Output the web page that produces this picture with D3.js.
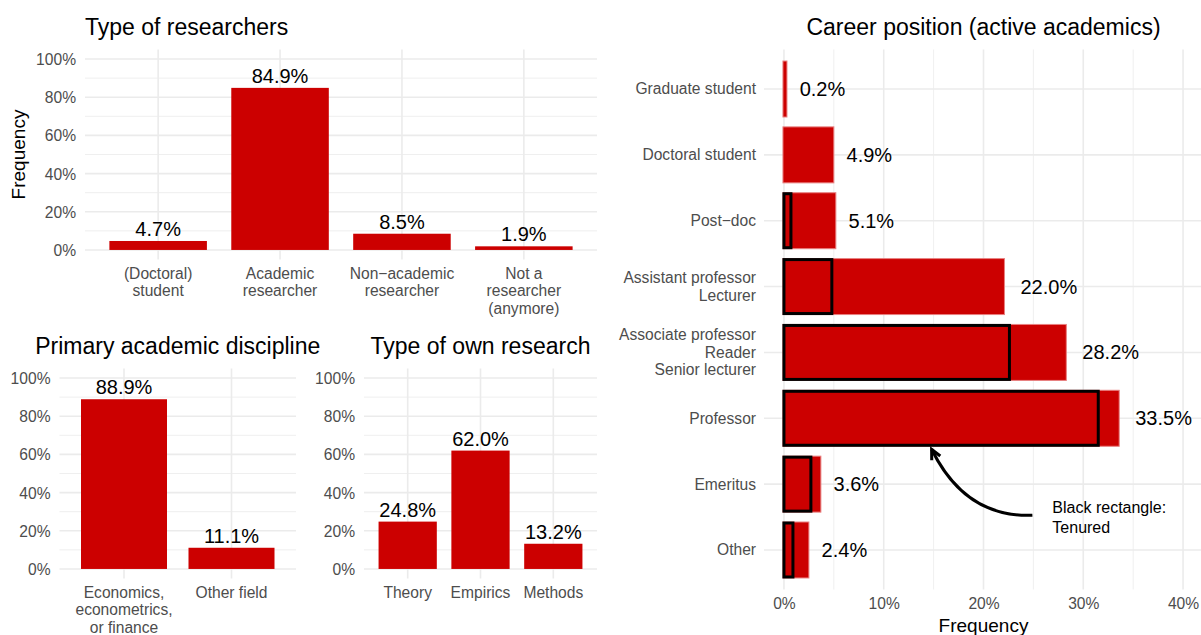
<!DOCTYPE html>
<html><head><meta charset="utf-8">
<script src="https://cdn.jsdelivr.net/npm/d3@7"></script>
<style>
body{margin:0;background:#fff}
svg{display:block}
text{font-family:"Liberation Sans",Arial,Helvetica,sans-serif}
</style>
</head><body>
<svg id="c" width="1201" height="635"></svg>
<script>
// ---------- DATA ----------
const researcherTypes = ["(Doctoral)\nstudent", "Academic\nresearcher", "Non\u2212academic\nresearcher", "Not a\nresearcher\n(anymore)"];
const researcherShares = [4.7, 84.9, 8.5, 1.9];

const disciplines = ["Economics,\neconometrics,\nor finance", "Other field"];
const disciplineShares = [88.9, 11.1];

const researchTypes = ["Theory", "Empirics", "Methods"];
const researchShares = [24.8, 62.0, 13.2];

const careerPositions = ["Graduate student", "Doctoral student", "Post\u2212doc", "Assistant professor\nLecturer",
  "Associate professor\nReader\nSenior lecturer", "Professor", "Emeritus", "Other"];
const careerShares = [0.2, 4.9, 5.1, 22.0, 28.2, 33.5, 3.6, 2.4];
const tenuredShares = [0, 0, 0.7, 4.8, 22.6, 31.5, 2.7, 0.9];

const yTicks = [0, 20, 40, 60, 80, 100];
const yMinorTicks = [10, 30, 50, 70, 90];
const careerTicks = [0, 10, 20, 30, 40];
const careerMinorTicks = [5, 15, 25, 35];

const annotationLines = ["Black rectangle:", "Tenured"];

// ---------- STYLE ----------
const RED = "#CC0000", GRID = "#EBEBEB", AXIS = "#4D4D4D";
const TICK_FS = 15.6, VAL_FS = 20, TITLE_FS = 23, AXTITLE_FS = 19, LINE_H = 17.5;

const svg = d3.select("#c");

function multiline(sel, label, lh) {
  const lines = label.split("\n");
  sel.text(null);
  lines.forEach((l, i) => sel.append("tspan").attr("x", sel.attr("x") || 0).attr("dy", i === 0 ? 0 : lh).text(l));
}

function verticalPanel(o) {
  const g = svg.append("g");
  const x = d3.scaleBand().domain(o.cats).range([o.left, o.right]).paddingInner(0.2).paddingOuter(0.2);
  const y = d3.scaleLinear().domain([-5, 105]).range([o.bottom, o.top]);
  // grid
  g.selectAll(".mn").data(yMinorTicks).join("line")
    .attr("x1", o.left).attr("x2", o.right).attr("y1", d => y(d)).attr("y2", d => y(d))
    .attr("stroke", GRID).attr("stroke-width", 0.8);
  g.selectAll(".mj").data(yTicks).join("line")
    .attr("x1", o.left).attr("x2", o.right).attr("y1", d => y(d)).attr("y2", d => y(d))
    .attr("stroke", GRID).attr("stroke-width", 1.6);
  g.selectAll(".vx").data(o.cats).join("line")
    .attr("x1", d => x(d) + x.bandwidth() / 2).attr("x2", d => x(d) + x.bandwidth() / 2)
    .attr("y1", o.top).attr("y2", o.bottom)
    .attr("stroke", GRID).attr("stroke-width", 1.6);
  // bars
  g.selectAll(".bar").data(o.cats).join("rect")
    .attr("x", d => x(d)).attr("width", x.bandwidth())
    .attr("y", (d, i) => y(o.vals[i])).attr("height", (d, i) => y(0) - y(o.vals[i]))
    .attr("fill", RED);
  // value labels
  g.selectAll(".val").data(o.cats).join("text")
    .attr("x", d => x(d) + x.bandwidth() / 2).attr("y", (d, i) => y(o.vals[i]) - 5)
    .attr("text-anchor", "middle").attr("font-size", VAL_FS).attr("fill", "#000")
    .text((d, i) => o.vals[i].toFixed(1) + "%");
  // y axis
  const ya = g.append("g").attr("transform", `translate(${o.left},0)`)
    .call(d3.axisLeft(y).tickValues(yTicks).tickSize(0).tickPadding(9).tickFormat(d => d + "%"));
  ya.select(".domain").remove();
  ya.selectAll("text").attr("font-size", TICK_FS).attr("fill", AXIS).attr("font-family", null).attr("dy", "0.35em");
  // x axis
  const xa = g.append("g").attr("transform", `translate(0,${o.bottom})`)
    .call(d3.axisBottom(x).tickSize(0).tickPadding(0));
  xa.select(".domain").remove();
  xa.selectAll("text").attr("font-size", TICK_FS).attr("fill", AXIS).attr("font-family", null)
    .attr("y", 19).attr("dy", null)
    .each(function (d) { multiline(d3.select(this), d, LINE_H); });
  // title
  g.append("text").attr("x", o.titleX).attr("y", o.titleY)
    .attr("text-anchor", o.titleAnchor).attr("font-size", TITLE_FS).attr("fill", "#000").text(o.title);
  return g;
}

verticalPanel({ left: 85, right: 597, top: 49.5, bottom: 259.5, cats: researcherTypes, vals: researcherShares,
  title: "Type of researchers", titleX: 85, titleY: 35, titleAnchor: "start" });
svg.append("text").attr("transform", "translate(25,154.5) rotate(-90)")
  .attr("text-anchor", "middle").attr("font-size", AXTITLE_FS).attr("fill", "#000").text("Frequency");

verticalPanel({ left: 59.5, right: 296, top: 368.5, bottom: 578.5, cats: disciplines, vals: disciplineShares,
  title: "Primary academic discipline", titleX: 177.75, titleY: 354, titleAnchor: "middle" });

verticalPanel({ left: 364, right: 597, top: 368.5, bottom: 578.5, cats: researchTypes, vals: researchShares,
  title: "Type of own research", titleX: 480.5, titleY: 354, titleAnchor: "middle" });

// ---------- CAREER PANEL ----------
(function () {
  const L = 764, R = 1203, T = 49.5, B = 589.5;
  const g = svg.append("g");
  const x = d3.scaleLinear().domain([-2, 42]).range([L, R]);
  const y = d3.scaleBand().domain(careerPositions).range([T, B]).paddingInner(0.15).paddingOuter(0.175);
  const cy = d => y(d) + y.bandwidth() / 2;
  g.selectAll(".mn").data(careerMinorTicks).join("line")
    .attr("x1", d => x(d)).attr("x2", d => x(d)).attr("y1", T).attr("y2", B)
    .attr("stroke", GRID).attr("stroke-width", 0.8);
  g.selectAll(".mj").data(careerTicks).join("line")
    .attr("x1", d => x(d)).attr("x2", d => x(d)).attr("y1", T).attr("y2", B)
    .attr("stroke", GRID).attr("stroke-width", 1.6);
  g.selectAll(".hz").data(careerPositions).join("line")
    .attr("x1", L).attr("x2", R).attr("y1", cy).attr("y2", cy)
    .attr("stroke", GRID).attr("stroke-width", 1.6);
  // bars
  g.selectAll(".bar").data(careerPositions).join("rect")
    .attr("x", x(0) - 1).attr("width", (d, i) => x(careerShares[i]) - x(0) + 2)
    .attr("y", d => y(d)).attr("height", y.bandwidth())
    .attr("fill", RED).attr("stroke", "#e88080").attr("stroke-width", 1);
  // tenured rectangles
  g.selectAll(".ten").data(careerPositions.filter((d, i) => tenuredShares[i] > 0)).join("rect")
    .attr("x", x(0)).attr("width", d => x(tenuredShares[careerPositions.indexOf(d)]) - x(0))
    .attr("y", d => y(d) + 1).attr("height", y.bandwidth() - 2)
    .attr("fill", "none").attr("stroke", "#000").attr("stroke-width", 3);
  // value labels (hjust = -0.3)
  g.selectAll(".val").data(careerPositions).join("text")
    .attr("y", d => cy(d)).attr("dy", "0.35em")
    .attr("font-size", VAL_FS).attr("fill", "#000")
    .text((d, i) => careerShares[i].toFixed(1) + "%")
    .attr("x", function (d, i) { return x(careerShares[i]) + 0.3 * this.getComputedTextLength(); });
  // y axis
  const ya = g.append("g").attr("transform", `translate(${L},0)`)
    .call(d3.axisLeft(y).tickSize(0).tickPadding(8));
  ya.select(".domain").remove();
  ya.selectAll("text").attr("font-size", TICK_FS).attr("fill", AXIS).attr("font-family", null)
    .each(function (d) {
      const n = d.split("\n").length;
      const s = d3.select(this).attr("dy", null).attr("y", 5.4 - (n - 1) * LINE_H / 2);
      multiline(s, d, LINE_H);
    });
  // x axis
  const xa = g.append("g").attr("transform", `translate(0,${B})`)
    .call(d3.axisBottom(x).tickValues(careerTicks).tickSize(0).tickPadding(0).tickFormat(d => d + "%"));
  xa.select(".domain").remove();
  xa.selectAll("text").attr("font-size", TICK_FS).attr("fill", AXIS).attr("font-family", null)
    .attr("y", 19).attr("dy", null);
  g.append("text").attr("x", (L + R) / 2).attr("y", 631.5).attr("text-anchor", "middle")
    .attr("font-size", AXTITLE_FS).attr("fill", "#000").text("Frequency");
  g.append("text").attr("x", (L + R) / 2).attr("y", 35).attr("text-anchor", "middle")
    .attr("font-size", TITLE_FS).attr("fill", "#000").text("Career position (active academics)");

  // annotation: curved arrow pointing at Professor bar
  const start = [x(24.9), cy("Emeritus") + 31];
  const end = [x(14.8), y("Professor") + y.bandwidth() + 3];
  const ctrl = [x(18.2), start[1] + 3];
  const p = d3.path();
  p.moveTo(start[0], start[1]);
  p.quadraticCurveTo(ctrl[0], ctrl[1], end[0], end[1]);
  g.append("path").attr("d", p.toString()).attr("fill", "none").attr("stroke", "#000").attr("stroke-width", 3);
  const ang = Math.atan2(end[1] - ctrl[1], end[0] - ctrl[0]);
  const len = 11, spread = Math.PI / 7;
  const ah = d3.path();
  ah.moveTo(end[0] - len * Math.cos(ang - spread), end[1] - len * Math.sin(ang - spread));
  ah.lineTo(end[0], end[1]);
  ah.lineTo(end[0] - len * Math.cos(ang + spread), end[1] - len * Math.sin(ang + spread));
  g.append("path").attr("d", ah.toString()).attr("fill", "none").attr("stroke", "#000")
    .attr("stroke-width", 3).attr("stroke-linejoin", "miter");
  const at = g.append("text").attr("x", x(26.9)).attr("y", cy("Emeritus") + 28.5)
    .attr("font-size", 16).attr("fill", "#000");
  annotationLines.forEach((l, i) => at.append("tspan").attr("x", x(26.9)).attr("dy", i === 0 ? 0 : 20).text(l));
})();
</script>
</body></html>
